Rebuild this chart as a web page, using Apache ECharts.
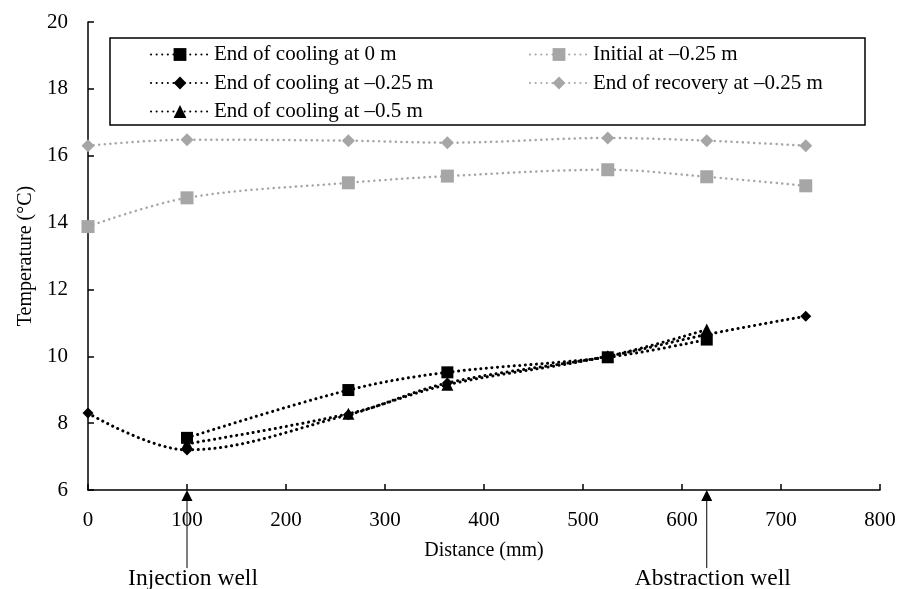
<!DOCTYPE html>
<html><head><meta charset="utf-8">
<script src="https://cdn.jsdelivr.net/npm/echarts@6/dist/echarts.min.js"></script>
<style>html,body{margin:0;padding:0;background:#fff}#c{width:902px;height:589px}</style>
</head><body><div id="c"></div>
<script>
const distances = [0, 100, 263, 363, 525, 625, 725];
const coolingAt0 = [null, 7.56, 8.99, 9.52, 9.97, 10.5, null];
const coolingAt025 = [8.3, 7.2, 8.25, 9.2, 10.0, 10.65, 11.2];
const coolingAt05 = [null, 7.38, 8.28, 9.15, 10.0, 10.8, null];
const initialAt025 = [13.88, 14.74, 15.19, 15.39, 15.58, 15.37, 15.1];
const recoveryAt025 = [16.3, 16.48, 16.45, 16.39, 16.53, 16.45, 16.3];
const wells = [{name: 'Injection well', x: 100}, {name: 'Abstraction well', x: 625}];
const names = ['End of cooling at 0 m', 'End of cooling at –0.25 m', 'End of cooling at –0.5 m', 'Initial at –0.25 m', 'End of recovery at –0.25 m'];

const FONT = '"Liberation Serif", "Times New Roman", serif';
const pairs = arr => distances.map((d, i) => arr[i] == null ? null : [d, arr[i]]).filter(p => p);

function mk(name, data, color, symbol, size, width) {
  return {
    name, type: 'line', data: pairs(data), smooth: 0.35,
    symbol, symbolSize: size,
    itemStyle: {color},
    lineStyle: {color, width, type: [0.1, 5.5], cap: 'round'},
    z: color === '#000' ? 3 : 2
  };
}

const legendText = {fontFamily: FONT, fontSize: 21, color: '#000', lineHeight: 21};
const chart = echarts.init(document.getElementById('c'));
chart.setOption({
  animation: false,
  textStyle: {fontFamily: FONT},
  grid: {left: 88, right: 22, top: 22, bottom: 99, containLabel: false, outerBoundsMode: 'none'},
  xAxis: {
    type: 'value', min: 0, max: 800, interval: 100,
    name: 'Distance (mm)', nameLocation: 'middle', nameGap: 51,
    nameTextStyle: {fontFamily: FONT, fontSize: 20, color: '#000'},
    axisLine: {lineStyle: {color: '#000', width: 1.5}},
    axisTick: {inside: true, length: 6, lineStyle: {color: '#000', width: 1.5}},
    axisLabel: {fontFamily: FONT, fontSize: 21, color: '#000', margin: 20},
    splitLine: {show: false}
  },
  yAxis: {
    type: 'value', min: 6, max: 20, interval: 2,
    name: 'Temperature (°C)', nameLocation: 'middle', nameGap: 52,
    nameTextStyle: {fontFamily: FONT, fontSize: 20, color: '#000'},
    axisLine: {show: true, lineStyle: {color: '#000', width: 1.5}},
    axisTick: {show: true, inside: true, length: 6, lineStyle: {color: '#000', width: 1.5}},
    axisLabel: {fontFamily: FONT, fontSize: 21, color: '#000', margin: 20},
    splitLine: {show: false}
  },
  legend: [
    {data: names.slice(0, 3), orient: 'vertical', left: 150, top: 44, padding: 0, itemGap: 7.5, itemWidth: 58, itemHeight: 16,
     textStyle: legendText},
    {data: names.slice(3), orient: 'vertical', left: 529, top: 44, padding: 0, itemGap: 7.5, itemWidth: 58, itemHeight: 16,
     textStyle: legendText}
  ],
  series: [
    mk(names[0], coolingAt0, '#000', 'rect', 12, 3),
    mk(names[1], coolingAt025, '#000', 'diamond', 11, 3),
    mk(names[2], coolingAt05, '#000', 'triangle', 12, 3),
    mk(names[3], initialAt025, '#a6a6a6', 'rect', 13, 2.5),
    mk(names[4], recoveryAt025, '#a6a6a6', 'diamond', 13, 2.5)
  ]
});

const g = [{type: 'rect', shape: {x: 110, y: 38, width: 755, height: 87}, style: {fill: 'none', stroke: '#000', lineWidth: 1.5}, z: 10}];
const y0 = chart.convertToPixel({gridIndex: 0}, [0, 6])[1];
wells.forEach(w => {
  const px = chart.convertToPixel({gridIndex: 0}, [w.x, 6])[0];
  g.push({type: 'line', shape: {x1: px, y1: y0 + 10, x2: px, y2: y0 + 78}, style: {stroke: '#000', lineWidth: 1}, z: 10});
  g.push({type: 'polygon', shape: {points: [[px, y0], [px - 5.5, y0 + 11], [px + 5.5, y0 + 11]]}, style: {fill: '#000'}, z: 10});
  g.push({type: 'text', x: px + 6, y: y0 + 89, style: {text: w.name, font: '23.5px ' + FONT, fill: '#000', textAlign: 'center', textVerticalAlign: 'middle'}, z: 10});
});
chart.setOption({graphic: g});
</script></body></html>
